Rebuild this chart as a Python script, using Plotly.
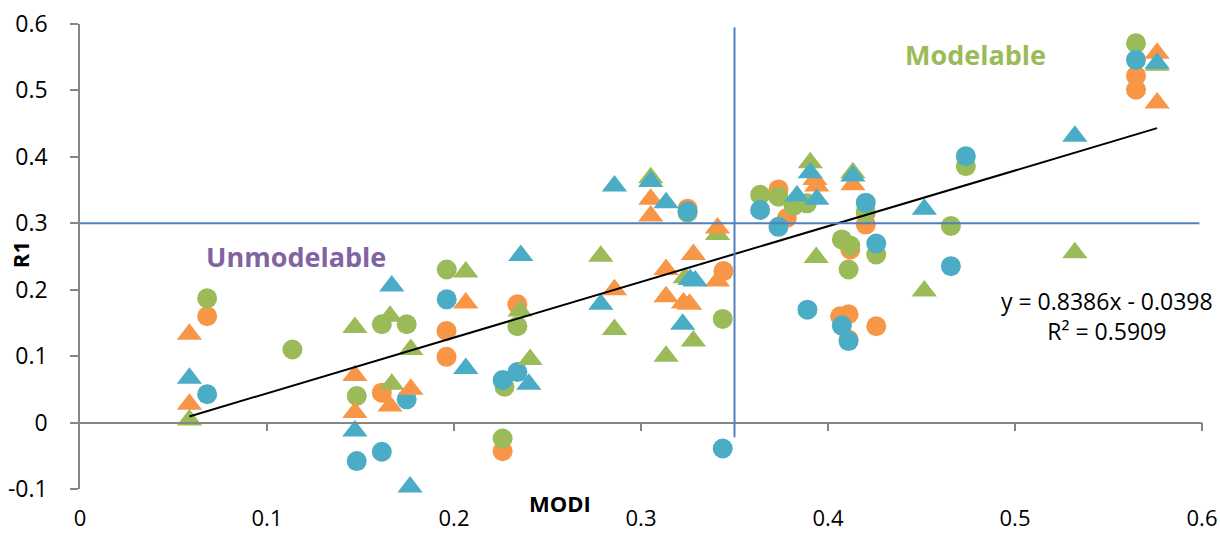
import plotly.graph_objects as go

# ---- data ----
orange_circle_x = [0.068, 0.1614, 0.196, 0.196, 0.2339, 0.226, 0.3249, 0.3441, 0.3735, 0.378,
                   0.4202, 0.4119, 0.4065, 0.411, 0.4258, 0.411, 0.5647, 0.5647]
orange_circle_y = [0.160, 0.045, 0.138, 0.099, 0.178, -0.043, 0.322, 0.228, 0.351, 0.308,
                   0.298, 0.2606, 0.160, 0.163, 0.145, 0.125, 0.522, 0.501]

green_circle_x = [0.068, 0.1136, 0.148, 0.1614, 0.1747, 0.1961, 0.2339, 0.227, 0.226, 0.3249,
                  0.3437, 0.3637, 0.3735, 0.3816, 0.3887, 0.4202, 0.4074, 0.4119, 0.4258, 0.411,
                  0.4657, 0.4737, 0.5647]
green_circle_y = [0.187, 0.110, 0.040, 0.148, 0.148, 0.2305, 0.145, 0.054, -0.024, 0.316,
                  0.156, 0.343, 0.340, 0.326, 0.330, 0.316, 0.2757, 0.2666, 0.253, 0.2305,
                  0.296, 0.386, 0.571]

blue_circle_x = [0.068, 0.148, 0.1614, 0.1747, 0.1961, 0.226, 0.2339, 0.3249, 0.3437, 0.3637,
                 0.3735, 0.389, 0.4202, 0.4258, 0.4074, 0.411, 0.4657, 0.4737, 0.5647]
blue_circle_y = [0.0426, -0.058, -0.044, 0.035, 0.1855, 0.064, 0.076, 0.318, -0.039, 0.320,
                 0.2947, 0.170, 0.331, 0.2696, 0.146, 0.1227, 0.2355, 0.401, 0.546]

green_tri_x = [0.0585, 0.147, 0.1658, 0.1769, 0.1667, 0.2063, 0.2353, 0.2407, 0.2785, 0.2858,
               0.3134, 0.3236, 0.328, 0.3052, 0.3409, 0.3905, 0.3937, 0.4133, 0.4515, 0.532, 0.576]
green_tri_y = [0.004, 0.143, 0.160, 0.110, 0.0576, 0.2265, 0.168, 0.095, 0.2505, 0.140,
               0.100, 0.218, 0.1227, 0.3685, 0.283, 0.391, 0.2485, 0.376, 0.198, 0.2555, 0.538]

orange_tri_x = [0.0585, 0.0585, 0.147, 0.147, 0.1658, 0.1769, 0.2063, 0.2858, 0.3134, 0.3134,
                0.3227, 0.326, 0.328, 0.3409, 0.3052, 0.3052, 0.3409, 0.393, 0.394, 0.4133,
                0.576, 0.576]
orange_tri_y = [0.133, 0.0275, 0.071, 0.015, 0.025, 0.050, 0.180, 0.200, 0.2305, 0.1895,
                0.180, 0.178, 0.253, 0.213, 0.336, 0.311, 0.293, 0.366, 0.356, 0.358,
                0.556, 0.481]

blue_tri_x = [0.0585, 0.147, 0.1667, 0.1765, 0.2063, 0.2357, 0.24, 0.2785, 0.2858, 0.3052,
              0.3134, 0.3223, 0.3263, 0.329, 0.3834, 0.3905, 0.394, 0.4133, 0.4515, 0.532, 0.576]
blue_tri_y = [0.0666, -0.0126, 0.2055, -0.097, 0.0815, 0.2515, 0.0576, 0.178, 0.356, 0.363,
              0.331, 0.148, 0.2155, 0.213, 0.341, 0.376, 0.336, 0.371, 0.321, 0.431, 0.541]

trend_slope = 0.8386
trend_intercept = -0.0398
trend_r2 = 0.5909
trend_x = [0.0585, 0.576]

threshold_x = 0.35
threshold_y = 0.3

x_ticks = [0, 0.1, 0.2, 0.3, 0.4, 0.5, 0.6]
x_tick_text = ["0", "0.1", "0.2", "0.3", "0.4", "0.5", "0.6"]
y_ticks = [-0.1, 0, 0.1, 0.2, 0.3, 0.4, 0.5, 0.6]
y_tick_text = ["-0.1", "0", "0.1", "0.2", "0.3", "0.4", "0.5", "0.6"]

ORANGE = "#F79646"
GREEN = "#9BBB59"
BLUE = "#4BACC6"
LINEBLUE = "#4F81BD"
AXIS = "#868686"
FONT = "Open Sans"

fig = go.Figure()

def add(xs, ys, color, symbol, size):
    fig.add_trace(go.Scatter(x=xs, y=ys, mode="markers",
                             marker=dict(color=color, symbol=symbol, size=size,
                                         line=dict(width=0)),
                             cliponaxis=False, hoverinfo="x+y"))

add(orange_circle_x, orange_circle_y, ORANGE, "circle", 20)
add(green_circle_x, green_circle_y, GREEN, "circle", 20)
add(blue_circle_x, blue_circle_y, BLUE, "circle", 20)
add(green_tri_x, green_tri_y, GREEN, "triangle-up", 22)
add(orange_tri_x, orange_tri_y, ORANGE, "triangle-up", 22)
add(blue_tri_x, blue_tri_y, BLUE, "triangle-up", 22)

trend_y = [trend_slope * v + trend_intercept for v in trend_x]
fig.add_trace(go.Scatter(x=trend_x, y=trend_y, mode="lines", xaxis="x2",
                         line=dict(color="black", width=2), hoverinfo="skip"))

# threshold lines
fig.add_shape(type="line", xref="x", yref="y", x0=-0.006, x1=0.5986,
              y0=threshold_y, y1=threshold_y, line=dict(color=LINEBLUE, width=2))
fig.add_shape(type="line", xref="x", yref="y", x0=threshold_x, x1=threshold_x,
              y0=-0.022, y1=0.595, line=dict(color=LINEBLUE, width=2))

fig.add_annotation(x=0.1155, y=0.25, xref="x", yref="y", text="<b>Unmodelable</b>",
                   xanchor="center", yanchor="middle",
                   showarrow=False, font=dict(family=FONT, size=27, color="#8064A2"))
fig.add_annotation(x=0.4787, y=0.554, xref="x", yref="y", text="<b>Modelable</b>",
                   xanchor="center", yanchor="middle",
                   showarrow=False, font=dict(family=FONT, size=27, color=GREEN))
fig.add_annotation(x=1.0115, y=0.3714, xref="paper", yref="paper", xanchor="right", yanchor="middle",
                   align="center",
                   text=f"y = {trend_slope}x - {abs(trend_intercept)}<br>R² = {trend_r2}",
                   showarrow=False, font=dict(family=FONT, size=23, color="black"))
fig.add_annotation(x=0.428, y=-0.03, xref="paper", yref="paper", text="<b>MODI</b>",
                   xanchor="center", yanchor="middle",
                   showarrow=False, font=dict(family=FONT, size=22, color="black"))
fig.add_annotation(x=-0.0535, y=0.505, xref="paper", yref="paper", text="<b>R1</b>", textangle=-90,
                   xanchor="center", yanchor="middle",
                   showarrow=False, font=dict(family=FONT, size=22, color="black"))

fig.update_layout(
    width=1220, height=533,
    margin=dict(l=80, r=18, t=24, b=44),
    paper_bgcolor="white", plot_bgcolor="white",
    showlegend=False,
    font=dict(family=FONT, size=23, color="black"),
    xaxis=dict(range=[0, 0.6], tickvals=x_ticks, ticktext=x_tick_text,
               showline=False, ticks="", showgrid=False, zeroline=False, automargin=False,
               ticklabelstandoff=14, ticklabeloverflow="allow",
               tickfont=dict(family=FONT, size=22)),
    xaxis2=dict(range=[0, 0.6], overlaying="x", anchor="free", position=1/7,
                side="bottom", showline=True, linecolor=AXIS, linewidth=1.5, automargin=False,
                ticks="outside", ticklen=8, tickwidth=1.5, tickcolor=AXIS,
                tickvals=x_ticks[1:], showticklabels=False, showgrid=False, zeroline=False),
    yaxis=dict(range=[-0.1, 0.6], tickvals=y_ticks, ticktext=y_tick_text,
               showline=True, linecolor=AXIS, linewidth=1.5, automargin=False,
               ticks="outside", ticklen=8, tickwidth=1.5, tickcolor=AXIS,
               showgrid=False, zeroline=False, ticklabelstandoff=18,
               ticklabeloverflow="allow",
               tickfont=dict(family=FONT, size=23)),
)

# remove the default 8px page margin so the 1220x533 figure fills the window exactly
fig.write_html("out.html",
               config={"displayModeBar": False},
               post_script="document.body.style.margin='0';"
                           "document.documentElement.style.overflow='hidden';")
